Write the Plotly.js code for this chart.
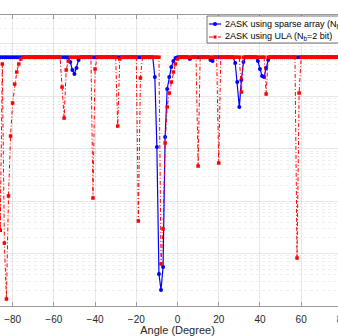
<!DOCTYPE html>
<html>
<head>
<meta charset="utf-8">
<script src="https://cdn.plot.ly/plotly-3.0.1.min.js"></script>
<style>
  html, body { margin: 0; padding: 0; background: #fff; overflow: hidden; width: 338px; height: 336px; }
  /* the reference is a crop of a wider figure, so the plot runs past both edges */
  #chart { position: absolute; left: -60px; top: 0; width: 455px; height: 336px; }
</style>
</head>
<body>
<div id="chart"></div>
<script>
// ANGLE GRID (degrees), one sample per degree
const angles = []
for (let a = -90; a <= 90; a += 1) {
  angles.push(a)
}

// 2ASK using sparse array (log scale)
const sparseVals = [
  0.56, 0.56, 0.56, 0.56, 0.56, 0.56, 0.56, 0.56, 0.56, 0.56, // -90
  0.56, 0.56, 0.56, 0.56, 0.56, 0.56, 0.56, 0.56, 0.56, 0.56, // -80
  0.56, 0.56, 0.56, 0.56, 0.56, 0.56, 0.56, 0.56, 0.56, 0.56, // -70
  0.56, 0.56, 0.56, 0.56, 0.56, 0.56, 0.56, 0.56, 0.453, 0.319, // -60
  0.267, 0.348, 0.494, 0.56, 0.56, 0.56, 0.56, 0.56, 0.56, 0.56, // -50
  0.56, 0.56, 0.56, 0.56, 0.56, 0.56, 0.56, 0.56, 0.56, 0.56, // -40
  0.56, 0.56, 0.56, 0.56, 0.56, 0.56, 0.56, 0.56, 0.56, 0.56, // -30
  0.56, 0.56, 0.56, 0.56, 0.56, 0.56, 0.56, 0.56, 0.56, 0.234, // -20
  0.0108, 4.08e-5, 2.02e-5, 5.54e-5, 0.0168, 0.138, 0.234, 0.364, 0.473, 0.54, // -10
  0.56, 0.56, 0.56, 0.56, 0.56, 0.56, 0.517, 0.56, 0.56, 0.56, // 0
  0.56, 0.56, 0.56, 0.56, 0.56, 0.56, 0.494, 0.473, 0.56, 0.56, // 10
  0.56, 0.56, 0.56, 0.56, 0.56, 0.56, 0.56, 0.56, 0.433, 0.188, // 20
  0.0627, 0.205, 0.453, 0.56, 0.56, 0.56, 0.56, 0.56, 0.56, 0.473, // 30
  0.333, 0.245, 0.234, 0.348, 0.494, 0.56, 0.56, 0.56, 0.56, 0.56, // 40
  0.56, 0.56, 0.56, 0.56, 0.56, 0.56, 0.56, 0.56, 0.56, 0.56, // 50
  0.56, 0.56, 0.56, 0.56, 0.56, 0.56, 0.56, 0.56, 0.56, 0.56, // 60
  0.56, 0.56, 0.56, 0.56, 0.56, 0.56, 0.56, 0.56, 0.56, 0.56, // 70
  0.56, 0.56, 0.56, 0.56, 0.56, 0.56, 0.56, 0.56, 0.56, 0.56, // 80
  0.56, // 90
]

// 2ASK using ULA (Nb = 2 bit)
const ulaVals = [
  0.56, 0.56, 0.56, 0.56, 2.8e-4, 0.415, 1.59e-4, 1.36e-5, 0.00126, 0.0175, // -90
  0.0748, 0.172, 0.292, 0.415, 0.517, 0.56, 0.56, 0.56, 0.56, 0.56, // -80
  0.56, 0.56, 0.56, 0.56, 0.56, 0.56, 0.56, 0.56, 0.56, 0.56, // -70
  0.56, 0.56, 0.56, 0.56, 0.151, 0.0386, 0.319, 0.473, 0.56, 0.56, // -60
  0.56, 0.56, 0.56, 0.56, 0.56, 0.56, 0.56, 0.56, 0.56, 0.00115, // -50
  0.333, 0.56, 0.56, 0.56, 0.56, 0.56, 0.56, 0.56, 0.56, 0.56, // -40
  0.56, 0.0272, 0.517, 0.56, 0.56, 0.56, 0.56, 0.56, 0.56, 0.56, // -30
  0.56, 0.000419, 0.224, 0.56, 0.56, 0.56, 0.56, 0.56, 0.56, 0.56, // -20
  0.56, 0.56, 6.33e-5, 0.000295, 0.0129, 0.0627, 0.116, 0.188, 0.292, 0.415, // -10
  0.517, 0.56, 0.56, 0.56, 0.56, 0.56, 0.56, 0.56, 0.56, 0.56, // 0
  0.00469, 0.56, 0.56, 0.56, 0.56, 0.56, 0.56, 0.56, 0.56, 0.56, // 10
  0.00535, 0.56, 0.56, 0.56, 0.56, 0.56, 0.56, 0.56, 0.56, 0.56, // 20
  0.56, 0.121, 0.56, 0.56, 0.56, 0.56, 0.56, 0.56, 0.56, 0.56, // 30
  0.56, 0.56, 0.56, 0.111, 0.56, 0.56, 0.56, 0.56, 0.56, 0.56, // 40
  0.56, 0.56, 0.56, 0.56, 0.56, 0.56, 0.56, 0.56, 8.24e-5, 0.116, // 50
  0.56, 0.56, 0.56, 0.56, 0.56, 0.56, 0.56, 0.56, 0.56, 0.56, // 60
  0.56, 0.56, 0.56, 0.56, 0.56, 0.56, 0.56, 0.56, 0.56, 0.56, // 70
  0.56, 0.56, 0.56, 0.56, 0.56, 0.56, 0.56, 0.56, 0.56, 0.56, // 80
  0.56, // 90
]

const seriesNames = [
  '2ASK using sparse array (N<sub>b</sub>=2 bit)',
  '2ASK using ULA (N<sub>b</sub>=2 bit)',
]

const FONT = 'Liberation Sans, Arial, Helvetica, sans-serif'
const AXIS_GREY = '#9a9a9a'
const GRID = 'rgba(38,38,38,0.11)'
const MINOR_GRID = 'rgba(38,38,38,0.08)'
const BLUE = '#0000ff'
const RED = '#ff0000'
const RED_DASH = '4px,2px,1px,2px'

// plot area in page pixels (div sits 60px left of the window)
const PLOT = { left: -8, right: 363, top: 15, bottom: 306 }
function px(x) { return (x - PLOT.left) / (PLOT.right - PLOT.left) }
function py(y) { return 1 - (y - PLOT.top) / (PLOT.bottom - PLOT.top) }

// TRACES
const sparseTrace = {
  x: angles,
  y: sparseVals,
  type: 'scatter',
  mode: 'lines+markers',
  name: seriesNames[0],
  line: { color: BLUE, width: 1.2 },
  marker: { color: BLUE, size: 4, symbol: 'circle' },
}

const ulaTrace = {
  x: angles,
  y: ulaVals,
  type: 'scatter',
  mode: 'lines+markers',
  name: seriesNames[1],
  line: { color: RED, width: 1, dash: RED_DASH },
  marker: { color: RED, size: 3.5, symbol: 'square' },
}

// LEGEND (MATLAB style box, drawn by hand so its rows stay tight)
const legendRows = [py(24), py(37)]
const legendShapes = [
  {
    type: 'rect', xref: 'paper', yref: 'paper', layer: 'above',
    x0: px(207), x1: px(420), y0: py(43), y1: py(16),
    fillcolor: '#ffffff', line: { color: '#3a3a3a', width: 0.7 },
  },
  {
    type: 'line', xref: 'paper', yref: 'paper', layer: 'above',
    x0: px(209), x1: px(221), y0: legendRows[0], y1: legendRows[0],
    line: { color: BLUE, width: 1.2 },
  },
  {
    type: 'circle', xref: 'paper', yref: 'paper', layer: 'above',
    x0: px(213), x1: px(217), y0: py(26), y1: py(22),
    fillcolor: BLUE, line: { color: BLUE, width: 0 },
  },
  {
    type: 'line', xref: 'paper', yref: 'paper', layer: 'above',
    x0: px(209), x1: px(221), y0: legendRows[1], y1: legendRows[1],
    line: { color: RED, width: 1, dash: RED_DASH },
  },
  {
    type: 'rect', xref: 'paper', yref: 'paper', layer: 'above',
    x0: px(213.5), x1: px(216.5), y0: py(38.5), y1: py(35.5),
    fillcolor: RED, line: { color: RED, width: 0 },
  },
]
const legendTexts = seriesNames.map((name, i) => ({
  text: name,
  xref: 'paper', yref: 'paper',
  x: px(223), y: legendRows[i],
  xanchor: 'left', yanchor: 'middle',
  showarrow: false,
  font: { family: FONT, size: 9, color: '#000000' },
}))

const layout = {
  width: 455,
  height: 336,
  margin: { l: 52, r: 32, t: 15, b: 30 },
  paper_bgcolor: '#ffffff',
  plot_bgcolor: '#ffffff',
  font: { family: FONT, size: 10, color: '#262626' },
  showlegend: false,
  shapes: legendShapes,
  annotations: legendTexts,
  xaxis: {
    range: [-90, 90],
    dtick: 20,
    tick0: 0,
    showgrid: true,
    gridcolor: GRID,
    gridwidth: 1,
    zeroline: false,
    showline: true,
    linecolor: AXIS_GREY,
    linewidth: 1,
    mirror: 'ticks',
    ticks: 'inside',
    ticklen: 4,
    tickcolor: AXIS_GREY,
    ticklabelstandoff: 4,
    tickfont: { family: FONT, size: 10, color: '#262626' },
    title: { text: 'Angle (Degree)', font: { family: FONT, size: 11, color: '#262626' }, standoff: 7 },
    automargin: false,
  },
  yaxis: {
    type: 'log',
    range: [-5, 0.553],
    dtick: 1,
    showgrid: true,
    gridcolor: GRID,
    gridwidth: 1,
    zeroline: false,
    showline: true,
    linecolor: AXIS_GREY,
    linewidth: 1,
    mirror: 'ticks',
    ticks: 'inside',
    ticklen: 4,
    tickcolor: AXIS_GREY,
    showticklabels: false,
    minor: {
      dtick: 'D1',
      showgrid: true,
      gridcolor: MINOR_GRID,
      griddash: 'dot',
      ticks: 'inside',
      ticklen: 2,
      tickcolor: AXIS_GREY,
    },
    automargin: false,
  },
}

/* ***** DRAW CHART ***** */
const chart = [sparseTrace, ulaTrace]
Plotly.newPlot('chart', chart, layout, { staticPlot: true, displayModeBar: false })
</script>
</body>
</html>
